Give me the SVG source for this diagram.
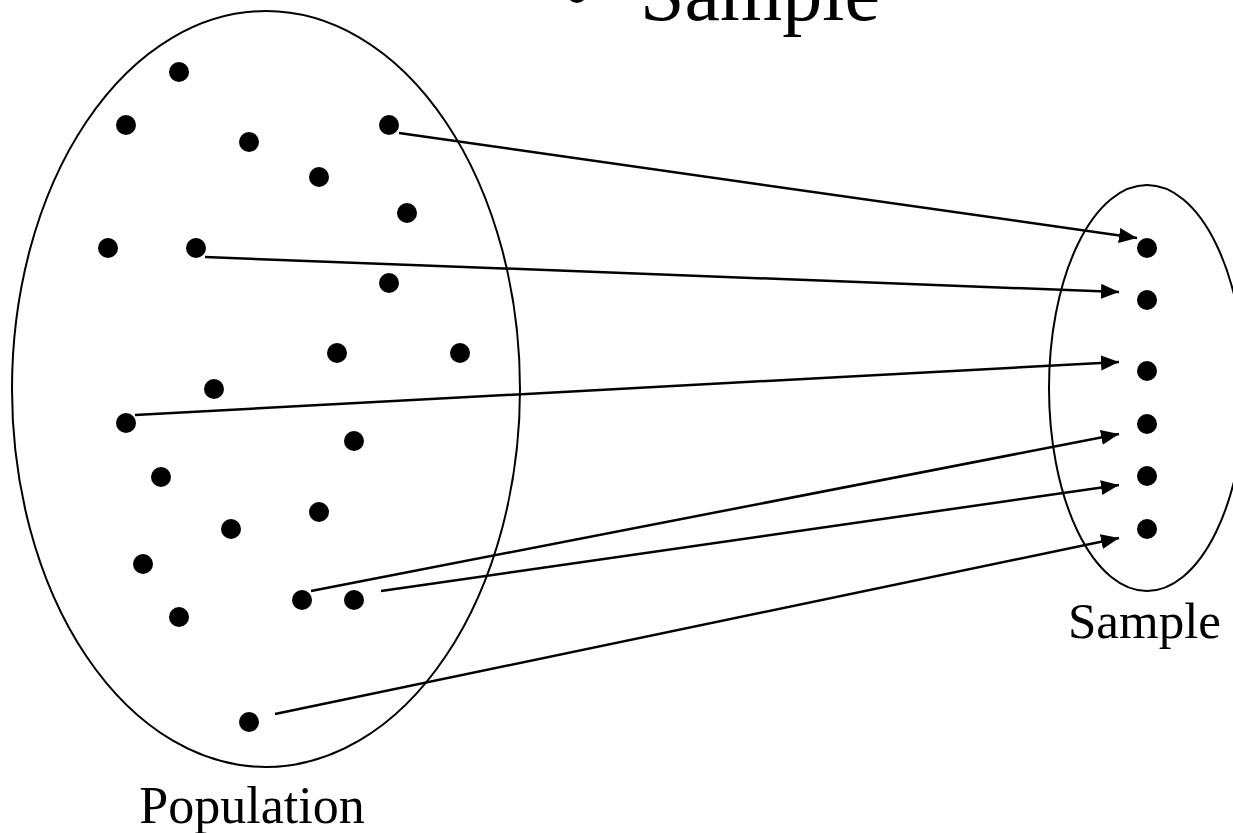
<svg xmlns="http://www.w3.org/2000/svg" width="1233" height="833" viewBox="0 0 1233 833">
<style>
.outline{fill:none;stroke:#000;stroke-width:2}
.dot{fill:#000}
.conn{stroke:#000;stroke-width:2.5;fill:none;marker-end:url(#ah)}
.lbl{font-family:"Liberation Serif","Times New Roman",serif;fill:#000}
</style>
<defs>
<marker id="ah" markerUnits="userSpaceOnUse" markerWidth="19" markerHeight="16" refX="18" refY="7.5" orient="auto">
<path d="M0,0 L18,7.5 L0,15 z" fill="#000"/>
</marker>
</defs>
<text class="lbl" x="563" y="20" font-size="80">•</text>
<text class="lbl" x="640" y="20" font-size="80">Sample</text>
<g id="population">
<ellipse class="outline" cx="266" cy="389" rx="254" ry="378"/>
<g class="dot">
<circle cx="179" cy="72" r="10"/>
<circle cx="126" cy="125" r="10"/>
<circle cx="249" cy="142" r="10"/>
<circle cx="389" cy="125" r="10"/>
<circle cx="319" cy="177" r="10"/>
<circle cx="407" cy="213" r="10"/>
<circle cx="108" cy="248" r="10"/>
<circle cx="196" cy="248" r="10"/>
<circle cx="389" cy="283" r="10"/>
<circle cx="337" cy="353" r="10"/>
<circle cx="460" cy="353" r="10"/>
<circle cx="214" cy="389" r="10"/>
<circle cx="126" cy="423" r="10"/>
<circle cx="354" cy="441" r="10"/>
<circle cx="161" cy="477" r="10"/>
<circle cx="319" cy="512" r="10"/>
<circle cx="231" cy="529" r="10"/>
<circle cx="143" cy="564" r="10"/>
<circle cx="302" cy="600" r="10"/>
<circle cx="354" cy="600" r="10"/>
<circle cx="179" cy="617" r="10"/>
<circle cx="249" cy="722" r="10"/>
</g>
<text class="lbl" x="252" y="823" font-size="52" text-anchor="middle">Population</text>
</g>
<g id="sample">
<ellipse class="outline" cx="1147" cy="388" rx="98" ry="203"/>
<g class="dot">
<circle cx="1147" cy="248" r="10"/>
<circle cx="1147" cy="300" r="10"/>
<circle cx="1147" cy="371" r="10"/>
<circle cx="1147" cy="424" r="10"/>
<circle cx="1147" cy="476" r="10"/>
<circle cx="1147" cy="529" r="10"/>
</g>
<text class="lbl" x="1068" y="638" font-size="51">Sample</text>
</g>
<g id="connectors">
<line class="conn" x1="399" y1="133" x2="1137" y2="238"/>
<line class="conn" x1="205" y1="257" x2="1119" y2="292"/>
<line class="conn" x1="135" y1="415" x2="1119" y2="362"/>
<line class="conn" x1="311" y1="591" x2="1119" y2="434"/>
<line class="conn" x1="381" y1="591" x2="1119" y2="485"/>
<line class="conn" x1="275" y1="714" x2="1119" y2="538"/>
</g>
</svg>
